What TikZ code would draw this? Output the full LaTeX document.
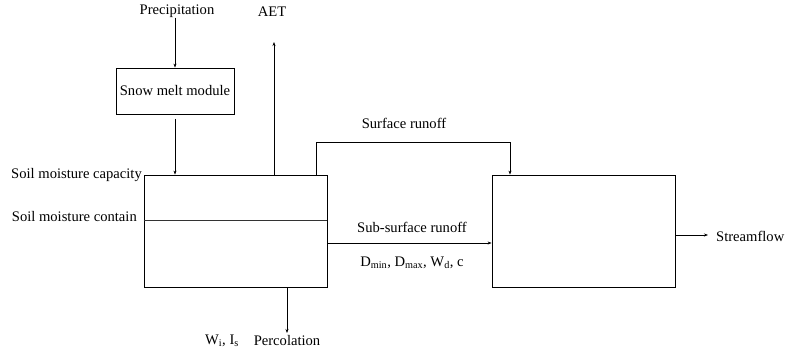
\documentclass[tikz,border=0pt]{standalone}
\usepackage{fontspec}
\setmainfont{Liberation Serif}
\usetikzlibrary{arrows.meta}
\begin{document}
\begin{tikzpicture}[x=1pt,y=-1pt,
  lbl/.style={inner sep=0pt,font=\fontsize{14.6}{17}\selectfont},
  box/.style={draw,line width=0.8pt,inner sep=0pt},
  conn/.style={line width=0.8pt,-{Stealth[length=4pt,width=3pt]}},
  plain/.style={line width=0.6pt,black!80}]
\useasboundingbox (0,0) rectangle (785,352);
% texts
\node[lbl] (prec) at (177,11) {Precipitation};
\node[lbl] (aet) at (272,12) {AET};
\node[box,minimum width=118pt,minimum height=46pt,font=\fontsize{14.6}{17}\selectfont] (snow) at (175,91) {Snow melt module};
\node[box,minimum width=183pt,minimum height=112pt] (soil) at (235.5,231) {};
\node[box,minimum width=183pt,minimum height=112pt] (res) at (583.5,231) {};
\node[lbl,anchor=east] (cap) at (142,175) {Soil moisture capacity};
\node[lbl,anchor=east] (cont) at (137,217) {Soil moisture contain};
\node[lbl] (surf) at (404,123) {Surface runoff};
\node[lbl] (sub) at (412,227) {Sub-surface runoff};
\node[lbl] (par) at (412,263) {D\textsubscript{min}, D\textsubscript{max}, W\textsubscript{d}, c};
\node[lbl,anchor=west] (stream) at (716,236) {Streamflow};
\node[lbl] (perc) at (287,341) {Percolation};
\node[lbl] (wi) at (222,341) {W\textsubscript{i}, I\textsubscript{s}};
% soil moisture contain line
\draw[plain] (soil.west |- 0,220) -- (soil.east |- 0,220);
% coordinates
\coordinate (aettip) at (274,42);
\coordinate (perctip) at (287,333);
\coordinate (streamtip) at (708,235);
% connectors
\draw[conn] (prec.south -| snow.north |- 0,28) -- (snow.north);
\draw[conn] (snow.south |- 0,119) -- (snow.south |- soil.north);
\draw[conn] (aettip |- soil.north) -- (aettip);
\draw[conn] (soil.north -| 316,0) -- (316,142) -- (510,142) -- (res.north -| 510,0);
\draw[conn] (soil.east |- 0,243) -- (res.west |- 0,243);
\draw[conn] (res.east |- streamtip) -- (streamtip);
\draw[conn] (perctip |- soil.south) -- (perctip);
\end{tikzpicture}
\end{document}
